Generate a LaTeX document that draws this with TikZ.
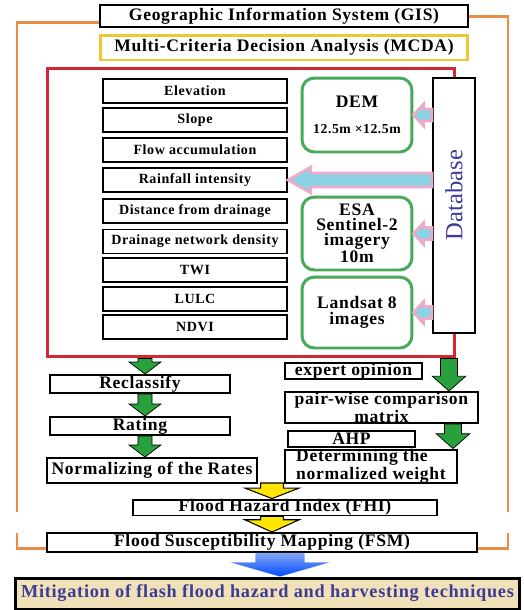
\documentclass[tikz,border=0pt]{standalone}
\usepackage{fontspec}
\setmainfont{Liberation Serif}[LetterSpace=4.0]
\usepackage{tikz}
\usetikzlibrary{calc}

\definecolor{gisorange}{RGB}{232,140,70}
\definecolor{mcdayellow}{RGB}{240,200,50}
\definecolor{framered}{RGB}{210,40,50}
\definecolor{srcgreen}{RGB}{70,170,90}
\definecolor{arrgreen}{RGB}{40,160,60}
\definecolor{arryellow}{RGB}{255,230,0}
\definecolor{arrpink}{RGB}{240,170,200}
\definecolor{arrcyan}{RGB}{140,210,230}
\definecolor{mitigtan}{RGB}{240,225,185}
\definecolor{dbblue}{RGB}{60,60,150}

\tikzset{
	box/.style={draw=black, line width=1.1pt, fill=white, inner sep=0pt, align=center, font=\fontsize{10}{8.5}\selectfont\bfseries},
	crit/.style={box, minimum width=3.68cm, minimum height=0.48cm, font=\fontsize{8}{9}\selectfont\bfseries},
	src/.style={draw=srcgreen, line width=1.7pt, rounded corners=7pt, fill=white, inner sep=0pt, align=center, minimum width=2.2cm, font=\fontsize{10}{8.5}\selectfont\bfseries},
	orangeline/.style={draw=gisorange, line width=1.7pt},
	dnarrow/.style n args={3}{to path={let \p1=(\tikztostart), \p2=(\tikztotarget) in
		(\x1-#1,\y1) -- (\x1-#1,\y2+#3) -- (\x1-#2,\y2+#3) -- (\x1,\y2) -- (\x1+#2,\y2+#3) -- (\x1+#1,\y2+#3) -- (\x1+#1,\y1) -- cycle}},
	lfarrow/.style n args={3}{to path={let \p1=(\tikztostart), \p2=(\tikztotarget) in
		(\x1,\y1-#1) -- (\x2+#3,\y1-#1) -- (\x2+#3,\y1-#2) -- (\x2,\y1) -- (\x2+#3,\y1+#2) -- (\x2+#3,\y1+#1) -- (\x1,\y1+#1) -- cycle}},
	grnarrow/.style={draw=black, line width=0.4pt, fill=arrgreen},
	ylwarrow/.style={draw=black, line width=0.6pt, fill=arryellow},
	pinkarrow/.style={draw=arrpink, line width=1.5pt, fill=arrcyan},
}

\begin{document}
\begin{tikzpicture}[x=0.02cm, y=-0.02cm]
	\useasboundingbox (0,0) rectangle (524,610);

	\node[box, minimum width=7.36cm, minimum height=0.44cm] (gis) at (284,16) {Geographic Information System (GIS)};
	\node[box, draw=mcdayellow, line width=1.7pt, minimum width=7.36cm, minimum height=0.5cm] (mcda) at (284,47.5) {Multi-Criteria Decision Analysis (MCDA)};

	\node[draw=framered, line width=1.7pt, minimum width=8.16cm, minimum height=5.78cm] (mcdaframe) at (251,212.5) {};
	\node[draw=black, line width=1.1pt, fill=white, minimum width=0.84cm, minimum height=5.1cm] (database) at (454,205.5) {};
	\node[rotate=90, text=dbblue, font=\fontsize{14}{14}\selectfont\addfontfeature{LetterSpace=0}] (dbtext) at (454,195) {Database};

	\node[crit] (elev) at (195,91) {Elevation};
	\node[crit] (slope) at (195,120) {Slope};
	\node[crit] (flowacc) at (195,150) {Flow accumulation};
	\node[crit] (rain) at (195,180) {Rainfall intensity};
	\node[crit] (distdr) at (195,211) {Distance from drainage};
	\node[crit] (drdens) at (195,241.5) {Drainage network density};
	\node[crit] (twi) at (195,270) {TWI};
	\node[crit] (lulc) at (195,299) {LULC};
	\node[crit] (ndvi) at (195,327) {NDVI};

	\node[src, minimum height=1.48cm] (dem) at (357,115) {DEM\\[6pt]{\fontsize{7.8}{9}\selectfont 12.5m ×12.5m}};
	\node[src, minimum height=1.46cm] (esa) at (357,233.5) {ESA\\Sentinel-2\\imagery\\10m};
	\node[src, minimum height=1.42cm] (landsat) at (357,312.5) {Landsat 8\\[0.5pt]images};

	\path[pinkarrow, lfarrow={3.4pt}{6.2pt}{5.7pt}] (database.west |- dem.east) to (dem.east);
	\path[pinkarrow, lfarrow={4pt}{7.4pt}{13pt}] (database.west |- rain.east) to (rain.east);
	\path[pinkarrow, lfarrow={3.4pt}{6.2pt}{5.7pt}] (database.west |- esa.east) to (esa.east);
	\path[pinkarrow, lfarrow={3.4pt}{6.2pt}{5.7pt}] (database.west |- landsat.east) to (landsat.east);

	\node[box, minimum width=3.6cm, minimum height=0.36cm] (reclass) at (140,384) {Reclassify};
	\node[box, minimum width=3.6cm, minimum height=0.36cm] (rating) at (140,426) {Rating};
	\node[box, minimum width=4.2cm, minimum height=0.5cm] (normrate) at (152,470.5) {Normalizing of the Rates};
	\node[box, minimum width=2.74cm, minimum height=0.32cm] (expert) at (353.5,371) {expert opinion};
	\node[box, minimum width=3.86cm, minimum height=0.62cm] (pairwise) at (381.5,407.5) {pair-wise comparison\\matrix};
	\node[box, minimum width=2.54cm, minimum height=0.32cm] (ahp) at (351.5,439) {AHP};
	\node[box, minimum width=3.44cm, minimum height=0.66cm, align=left] (normweight) at (371,466.5) {Determining the\\normalized weight};
	\node[box, minimum width=6.08cm, minimum height=0.3cm] (fhi) at (285,507.5) {Flood Hazard Index (FHI)};
	\node[box, minimum width=8.6cm, minimum height=0.38cm] (fsm) at (262,542.5) {Flood Susceptibility Mapping (FSM)};
	\node[box, fill=mitigtan, line width=1.7pt, minimum width=10.1cm, minimum height=0.62cm, text=dbblue, font=\fontsize{10.4}{10}\selectfont\bfseries] (mitig) at (267.5,593.5) {Mitigation of flash flood hazard and harvesting techniques};

	\coordinate (lcol) at (145,0);
	\coordinate (rcol) at (449,0);
	\coordinate (rcol2) at (453,0);
	\coordinate (mcol) at (272,0);
	\coordinate (join) at (272,483);
	\coordinate (bcol) at (280,0);

	\path[grnarrow, dnarrow={4pt}{9pt}{6.8pt}] (mcdaframe.south -| lcol) to (reclass.north -| lcol);
	\path[grnarrow, dnarrow={4pt}{9pt}{6.8pt}] (reclass.south -| lcol) to (rating.north -| lcol);
	\path[grnarrow, dnarrow={4pt}{9pt}{6.8pt}] (rating.south -| lcol) to (normrate.north -| lcol);
	\path[grnarrow, dnarrow={4.8pt}{9.6pt}{8.5pt}] (mcdaframe.south -| rcol) to (pairwise.north -| rcol);
	\path[grnarrow, dnarrow={4.8pt}{9.6pt}{8.5pt}] (pairwise.south -| rcol2) to (normweight.north -| rcol2);

	\path[ylwarrow, dnarrow={6.5pt}{15.5pt}{6pt}] (join) to (fhi.north -| mcol);
	\path[ylwarrow, dnarrow={6.5pt}{15.5pt}{7pt}] (fhi.south -| mcol) to (fsm.north -| mcol);
	\path[top color=arrcyan!60!blue!70, bottom color=blue!70!cyan, dnarrow={14pt}{28pt}{8pt}] (fsm.south -| bcol) to (mitig.north -| bcol);

	\draw[orangeline] (gis.west |- 0,22) -- (17,22) -- (17,512);
	\draw[orangeline] (17,533) -- (17,548) -- (fsm.west |- 0,548);
	\draw[orangeline] (gis.east) -- (508,16) -- (508,512);
	\draw[orangeline] (508,533) -- (508,548) -- (fsm.east |- 0,548);

\end{tikzpicture}
\end{document}
